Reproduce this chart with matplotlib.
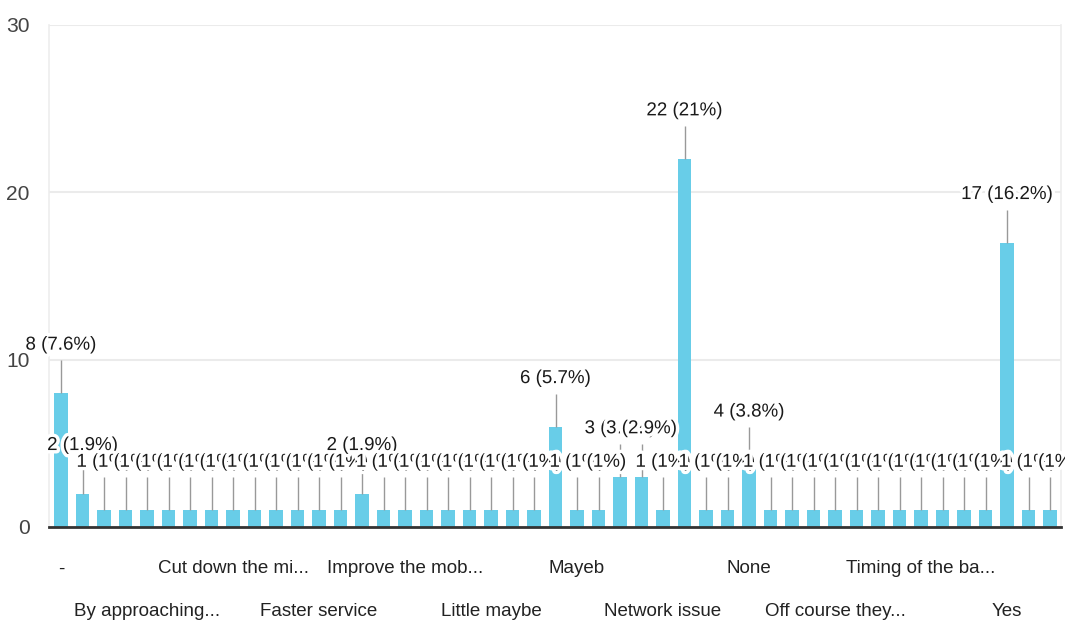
import matplotlib
matplotlib.use('Agg')
import matplotlib.pyplot as plt
import matplotlib.patheffects as pe
from matplotlib import font_manager

# answers sorted alphabetically, only every 4th name is readable in the chart
categories = ['-', '', '', '', 'By approaching...', '', '', '', 'Cut down the mi...', '', '', '',
              'Faster service', '', '', '', 'Improve the mob...', '', '', '', 'Little maybe', '', '',
              'Maybe', 'Mayeb', '', '', '', 'Network issue', 'No', '', '', 'None', '', '', '',
              'Off course they...', '', '', '', 'Timing of the ba...', '', '', '', 'Yes', '', '']
counts = [8, 2, 1, 1, 1, 1, 1, 1, 1, 1, 1, 1, 1, 1, 2, 1, 1, 1, 1, 1, 1, 1, 1,
          6, 1, 1, 3, 3, 1, 22, 1, 1, 4, 1, 1, 1, 1, 1, 1, 1, 1, 1, 1, 1, 17, 1, 1]
yticks = [0, 10, 20, 30]

names = {f.name for f in font_manager.fontManager.ttflist}
if 'Liberation Sans Narrow' in names:
    fam, fs = 'Liberation Sans Narrow', 16.5
else:
    fam, fs = 'Liberation Sans', 13.5
plt.rcParams['font.family'] = [fam, 'DejaVu Sans']

total = sum(counts)
x = list(range(len(counts)))

fig = plt.figure(figsize=(10.65, 6.26), dpi=100)
ax = fig.add_axes([49/1065, 99/626, 1012/1065, 502/626])

ax.bar(x, counts, width=0.62, color='#68cde8', zorder=2)
ax.set_xlim(-0.56, len(counts) - 0.49)
ax.set_ylim(0, 30)

ax.set_yticks(yticks)
ax.yaxis.grid(True, color='#ebebeb', linewidth=1.5)
ax.set_axisbelow(True)
ax.tick_params(axis='y', length=0, pad=14, labelsize=fs * 1.12, labelcolor='#444444')
ax.tick_params(axis='x', length=0, labelsize=fs, labelcolor='#222222')

shown = x[::4]
ax.set_xticks(shown)
ax.set_xticklabels([categories[i] for i in shown])
for k, t in enumerate(ax.xaxis.get_major_ticks()):
    t.set_pad(24 if k % 2 == 0 else 55)

for s in ['left', 'right', 'top']:
    ax.spines[s].set_color('#ededed')
    ax.spines[s].set_linewidth(1.2)
ax.spines['top'].set_visible(False)
ax.spines['bottom'].set_color('#333333')
ax.spines['bottom'].set_linewidth(2)
ax.spines['bottom'].set_zorder(3)

px = 72 / fig.dpi
lead = 33 / (502 / 30)
for i, v in enumerate(counts):
    pct = round(100 * v / total, 1)
    ax.vlines(i, v, v + lead, color='#999999', linewidth=1, zorder=2)
    ax.annotate(f'{v} ({pct:g}%)', xy=(i, v), xytext=(0, 48 * px), textcoords='offset points',
                ha='center', va='center', fontsize=fs, color='#1a1a1a', zorder=4,
                annotation_clip=False,
                path_effects=[pe.withStroke(linewidth=5, foreground='white')])

fig.savefig('out.png', dpi=100)
